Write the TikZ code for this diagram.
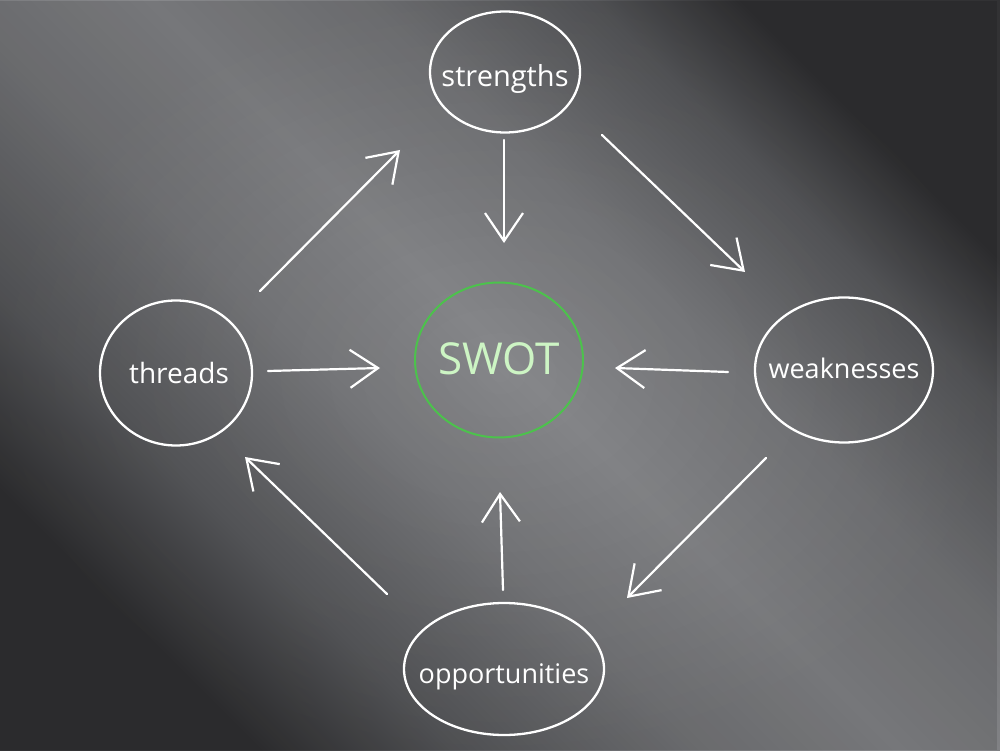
\documentclass[tikz,border=0pt]{standalone}
\usepackage{fontspec}
\setmainfont{Open Sans}
\usetikzlibrary{arrows.meta,shapes.geometric,fadings}
\definecolor{bgc0}{HTML}{323234}
\definecolor{bgc1}{HTML}{5A5B5E}
\definecolor{bgc2}{HTML}{797A7D}
\definecolor{bgc3}{HTML}{87888B}
\definecolor{swotgreen}{HTML}{4CC24C}
\definecolor{swottext}{HTML}{CDF5C4}
\pgfdeclarehorizontalshading{bgsh}{100bp}{color(0bp)=(bgc0); color(25bp)=(bgc0);
  color(33bp)=(bgc1); color(43bp)=(bgc2); color(51bp)=(bgc3); color(60bp)=(bgc2);
  color(69bp)=(bgc1); color(75bp)=(bgc0); color(100bp)=(bgc0)}
\tikzfading[name=vign, inner color=transparent!100, outer color=transparent!0]
\begin{document}
\begin{tikzpicture}[x=1pt,y=1pt,
  bubble/.style={draw=white, line width=2.3pt, ellipse, inner sep=0pt},
  word/.style={text=white, font=\fontsize{27}{32}\selectfont, inner sep=0pt},
  arr/.style={draw=white, line width=2.2pt, line cap=round,
    -{Straight Barb[length=28pt,width=38pt,line width=2.2pt]}},
]
\useasboundingbox (0,0) rectangle (1000,750);
\shade[shading=bgsh, shading angle=45] (0,0) rectangle (1000,750);
\fill[black, opacity=0.12, path fading=vign, fit fading=true] (0,0) rectangle (1000,750);

\node[bubble, minimum width=150pt, minimum height=121pt,
  label={[word, font=\fontsize{29}{34}\selectfont, yshift=-7pt]center:strengths}] (st) at (505,678) {};
\node[bubble, draw=swotgreen, line width=2pt, minimum width=168pt, minimum height=155pt,
  label={[word, text=swottext, font=\fontsize{44}{48}\selectfont, yshift=1pt]center:SWOT}] (swot) at (499,390) {};
\node[bubble, minimum width=152pt, minimum height=145pt,
  label={[word, font=\fontsize{28}{32}\selectfont, xshift=3pt]center:threads}] (th) at (176,377) {};
\node[bubble, minimum width=178pt, minimum height=145pt,
  label={[word, yshift=2pt]center:weaknesses}] (wk) at (844,380) {};
\node[bubble, minimum width=200pt, minimum height=132pt,
  label={[word, yshift=-8pt]center:opportunities}] (op) at (504,81) {};

\coordinate (a1s) at (504,610); \coordinate (a1e) at (504,507);
\coordinate (a2s) at (602,615); \coordinate (a2e) at (745,478);
\coordinate (a3s) at (728,378); \coordinate (a3e) at (615,382);
\coordinate (a4s) at (766,292); \coordinate (a4e) at (627,152);
\coordinate (a5s) at (503,160); \coordinate (a5e) at (500,258);
\coordinate (a6s) at (387,156); \coordinate (a6e) at (245,293);
\coordinate (a7s) at (268,379); \coordinate (a7e) at (380,382);
\coordinate (a8s) at (260,459); \coordinate (a8e) at (400,600);

\draw[arr] (a1s) -- (a1e);
\draw[arr] (a2s) -- (a2e);
\draw[arr] (a3s) -- (a3e);
\draw[arr] (a4s) -- (a4e);
\draw[arr] (a5s) -- (a5e);
\draw[arr] (a6s) -- (a6e);
\draw[arr] (a7s) -- (a7e);
\draw[arr] (a8s) -- (a8e);
\end{tikzpicture}
\end{document}
